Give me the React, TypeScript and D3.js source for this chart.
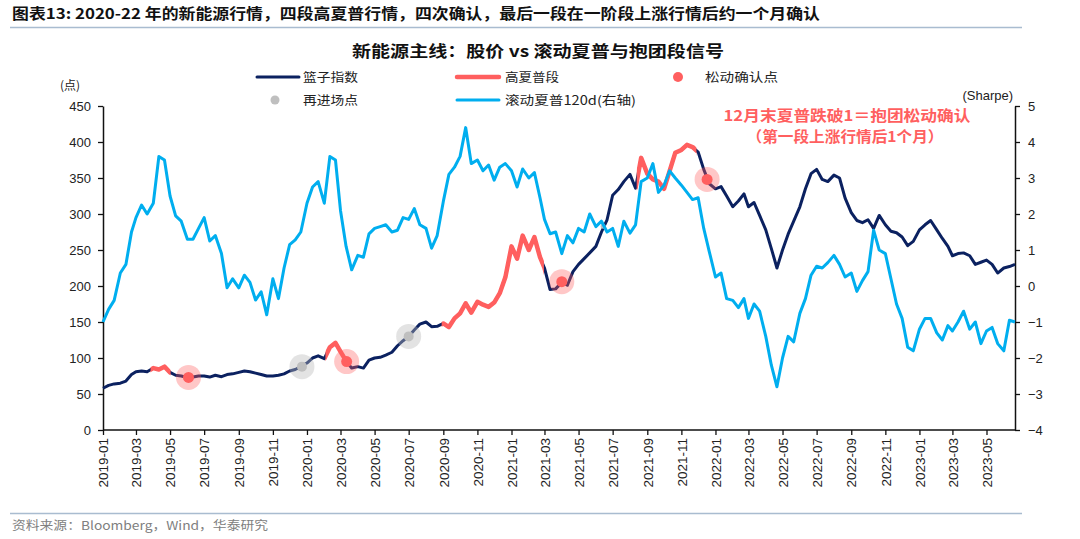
import React, { useEffect, useRef } from "react";
import * as d3 from "d3";

const W = 1080;
const H = 539;

// basket index, sampled on the 1st, 11th and 21st of each month from 2019-01
const priceValues = [
  58, 62, 64, 65, 68, 77, 81, 82, 81, 86,
  84, 88, 80, 76, 75, 73, 73.5, 75, 75, 73.5,
  76, 74, 77, 78, 80, 82, 81, 79, 77, 75,
  75, 76, 78, 82, 84, 88, 93, 100, 103, 99,
  115, 121, 109, 96, 86, 88, 86, 97, 100, 101,
  104, 108, 117, 124, 130, 139, 147, 150, 143.5, 144,
  148, 143, 155, 162, 176, 163, 178, 174, 171, 177,
  190, 212, 255, 238, 270, 250, 268, 240, 225, 195,
  196, 205, 201, 220, 230, 238, 246, 255, 275, 292,
  326, 334, 345, 355, 336, 378, 356, 348, 345, 335,
  360, 385, 389, 396, 393, 386, 362, 342, 335, 338,
  325, 310, 318, 328, 310, 316, 298, 278, 252, 225,
  250, 272, 290, 310, 335, 356, 362, 348, 345, 354,
  350, 322, 302, 291, 288, 292, 280, 298, 285, 276,
  274, 268, 256, 262, 278, 285, 291, 278, 266, 255,
  242, 245, 246, 242, 230, 233, 236, 230, 218, 225,
  227, 230,
];

// rolling 120d sharpe (right axis), same sampling
const sharpeValues = [
  -1.0, -0.65, -0.4, 0.36, 0.6, 1.5, 1.9, 2.25, 2.0, 2.3,
  3.6, 3.5, 2.5, 1.95, 1.8, 1.3, 1.3, 1.6, 1.9, 1.25,
  1.4, 0.9, -0.05, 0.2, -0.05, 0.3, 0.1, -0.39, -0.16, -0.8,
  0.2, -0.35, 0.5, 1.15, 1.28, 1.5, 2.3, 2.75, 2.9, 2.3,
  3.6, 3.5, 2.1, 1.1, 0.45, 0.85, 0.8, 1.45, 1.6, 1.65,
  1.7, 1.5, 1.55, 1.9, 1.85, 2.15, 1.7, 1.6, 1.05, 1.4,
  2.35, 3.1, 3.3, 3.6, 4.4, 3.4, 3.5, 3.2, 3.36, 2.94,
  3.3, 3.4, 3.2, 2.75, 3.25, 3.0, 3.15, 2.45, 1.85, 1.45,
  1.5, 0.9, 1.4, 1.2, 1.6, 1.5, 2.0, 1.65, 1.8, 1.5,
  1.6, 1.1, 1.8, 1.47, 1.7, 2.9, 3.0, 3.4, 2.6, 2.8,
  3.2, 3.0, 2.8, 2.6, 2.4, 2.45, 1.6, 0.95, 0.25, 0.36,
  -0.35, -0.4, -0.6, -0.35, -0.9, -0.5, -0.7, -1.4, -2.2, -2.8,
  -2.0, -1.4, -1.55, -0.76, -0.35, 0.3, 0.55, 0.5, 0.65, 0.85,
  0.6, 0.25, 0.36, -0.15, 0.15, 0.4, 1.55, 1.0, 0.9, 0.2,
  -0.5, -0.9, -1.7, -1.8, -1.2, -0.9, -0.9, -1.3, -1.5, -1.1,
  -1.25, -1.0, -0.7, -1.2, -1.0, -1.6, -1.25, -1.15, -1.6, -1.8,
  -0.95, -1.0,
];

const highSharpeStart = ["2019-03-27", "2020-02-03", "2020-08-29", "2021-08-13"];
const highSharpeEnd = ["2019-05-02", "2020-03-12", "2021-02-28", "2021-11-28"];

const confirmDates = ["2019-06-03", "2020-03-12", "2021-04-01", "2021-12-17"];
const confirmValues = [73, 95, 206, 348];

const reentryDates = ["2019-12-23", "2020-07-01", "2021-06-14"];
const reentryValues = [88, 130, 283];

const priceTicks = [0, 50, 100, 150, 200, 250, 300, 350, 400, 450];
const sharpeTicks = [-4, -3, -2, -1, 0, 1, 2, 3, 4, 5];

const titleText = "图表13:  2020-22 年的新能源行情，四段高夏普行情，四次确认，最后一段在一阶段上涨行情后约一个月确认";
const chartTitle = "新能源主线：股价 vs 滚动夏普与抱团段信号";
const noteLines = ["12月末夏普跌破1＝抱团松动确认", "（第一段上涨行情后1个月）"];
const sourceText = "资料来源：Bloomberg，Wind，华泰研究";

const CJK = "'Noto Sans CJK SC', 'Noto Sans', sans-serif";
const LATIN = "'Liberation Sans', Arial, sans-serif";

const NAVY = "#0B2160";
const RED = "#FF5F5F";
const BLUE = "#00AEEF";
const GREY = "#BFBFBF";

const dates = priceValues.map((_, i) => new Date(2019, Math.floor(i / 3), 1 + 10 * (i % 3)));
const parse = d3.timeParse("%Y-%m-%d");

export default function App() {
  const ref = useRef<SVGSVGElement | null>(null);

  useEffect(() => {
    document.body.style.margin = "0";
    const svg = d3.select(ref.current!);
    svg.selectAll("*").remove();

    const left = 103, right = 1015, top = 106, bottom = 430;
    const x = d3.scaleTime().domain([dates[0], dates[dates.length - 1]]).range([left, right]);
    const yL = d3.scaleLinear().domain([0, 450]).range([bottom, top]);
    const yR = d3.scaleLinear().domain([-4, 5]).range([bottom, top]);

    // header
    svg.append("text")
      .attr("x", 12).attr("y", 19)
      .attr("font-family", CJK).attr("font-size", 14.5).attr("font-weight", "bold")
      .attr("textLength", 808).attr("lengthAdjust", "spacingAndGlyphs")
      .attr("fill", "#111")
      .text(titleText);
    svg.append("line").attr("x1", 10).attr("x2", 1022).attr("y1", 27.5).attr("y2", 27.5)
      .attr("stroke", "#A9BCD0").attr("stroke-width", 1.5);

    svg.append("text")
      .attr("x", 538).attr("y", 57).attr("text-anchor", "middle")
      .attr("font-family", CJK).attr("font-size", 16).attr("font-weight", "bold")
      .attr("textLength", 372).attr("lengthAdjust", "spacingAndGlyphs")
      .attr("fill", "#111")
      .text(chartTitle);

    // legend
    const lg = svg.append("g").attr("font-family", CJK).attr("font-size", 12.5).attr("fill", "#222");
    const legendLine = (x1: number, y: number, color: string, w: number) =>
      lg.append("line").attr("x1", x1).attr("x2", x1 + 42).attr("y1", y).attr("y2", y)
        .attr("stroke", color).attr("stroke-width", w).attr("stroke-linecap", "round");
    const legendText = (x0: number, y: number, t: string, len: number) =>
      lg.append("text").attr("x", x0).attr("y", y + 4.5).attr("textLength", len)
        .attr("lengthAdjust", "spacingAndGlyphs").text(t);
    legendLine(257, 77, NAVY, 3);
    legendText(303, 77, "篮子指数", 55);
    legendLine(457, 77, RED, 4.5);
    legendText(505, 77, "高夏普段", 54);
    lg.append("circle").attr("cx", 678).attr("cy", 77).attr("r", 5).attr("fill", RED);
    legendText(705, 77, "松动确认点", 73);
    lg.append("circle").attr("cx", 275).attr("cy", 100).attr("r", 4.5).attr("fill", GREY);
    legendText(303, 100, "再进场点", 55);
    legendLine(457, 100, BLUE, 3);
    legendText(505, 100, "滚动夏普120d(右轴)", 131);

    // unit labels
    svg.append("text").attr("x", 70).attr("y", 90).attr("text-anchor", "middle")
      .attr("font-family", CJK).attr("font-size", 12).attr("fill", "#222").text("(点)");
    svg.append("text").attr("x", 1013).attr("y", 100).attr("text-anchor", "end")
      .attr("font-family", LATIN).attr("font-size", 13).attr("fill", "#222").text("(Sharpe)");

    // axes
    const styleAxis = (g: d3.Selection<SVGGElement, unknown, null, undefined>) => {
      g.attr("font-family", LATIN).attr("font-size", 13);
      g.select(".domain").attr("stroke", "#111").attr("stroke-width", 1.5);
      g.selectAll(".tick line").attr("stroke", "#111").attr("stroke-width", 1.3);
      g.selectAll(".tick text").attr("fill", "#222");
    };

    svg.append("g").attr("transform", `translate(${left},0)`)
      .call(d3.axisLeft(yL).tickValues(priceTicks).tickSize(5).tickSizeOuter(0).tickPadding(7))
      .call(styleAxis);

    svg.append("g").attr("transform", `translate(${right},0)`)
      .call(d3.axisRight(yR).tickValues(sharpeTicks).tickSize(5).tickSizeOuter(0).tickPadding(8))
      .call(styleAxis);

    const monthTicks = d3.timeMonth.range(new Date(2019, 0, 1), new Date(2023, 5, 1), 2);
    const xg = svg.append("g").attr("transform", `translate(0,${bottom})`)
      .call(d3.axisBottom(x).tickValues(monthTicks)
        .tickFormat((d) => d3.timeFormat("%Y-%m")(d as Date))
        .tickSize(5).tickSizeOuter(0))
      .call(styleAxis);
    xg.select(".domain").attr("d", `M${left},0H${right}`);
    xg.selectAll(".tick text")
      .attr("transform", "rotate(-90)")
      .attr("x", -8).attr("y", 0).attr("dy", "0.35em")
      .attr("font-size", 13.5)
      .style("text-anchor", "end");

    // series
    const priceLine = d3.line<number>()
      .x((_, i) => x(dates[i]))
      .y((d) => yL(d));
    const sharpeLine = d3.line<number>()
      .x((_, i) => x(dates[i]))
      .y((d) => yR(d));

    svg.append("path").datum(priceValues)
      .attr("d", priceLine).attr("fill", "none")
      .attr("stroke", NAVY).attr("stroke-width", 3).attr("stroke-linejoin", "round");

    const clip = svg.append("clipPath").attr("id", "hi-sharpe");
    highSharpeStart.forEach((s, k) => {
      const x0 = x(parse(s)!);
      const x1 = x(parse(highSharpeEnd[k])!);
      clip.append("rect").attr("x", x0).attr("y", 0).attr("width", x1 - x0).attr("height", H);
    });
    svg.append("path").datum(priceValues)
      .attr("d", priceLine).attr("fill", "none").attr("clip-path", "url(#hi-sharpe)")
      .attr("stroke", RED).attr("stroke-width", 4.5).attr("stroke-linejoin", "round");

    // halos and dots
    confirmDates.forEach((d, k) => {
      const cx = x(parse(d)!), cy = yL(confirmValues[k]);
      svg.append("circle").attr("cx", cx).attr("cy", cy).attr("r", 12.5)
        .attr("fill", "rgba(255,95,95,0.35)");
      svg.append("circle").attr("cx", cx).attr("cy", cy).attr("r", 5.5).attr("fill", RED);
    });
    reentryDates.forEach((d, k) => {
      const cx = x(parse(d)!), cy = yL(reentryValues[k]);
      const main = k < 2;
      if (main) {
        svg.append("circle").attr("cx", cx).attr("cy", cy).attr("r", 12.5)
          .attr("fill", "rgba(185,185,185,0.4)");
      }
      svg.append("circle").attr("cx", cx).attr("cy", cy).attr("r", main ? 5 : 2.5).attr("fill", GREY);
    });

    svg.append("path").datum(sharpeValues)
      .attr("d", sharpeLine).attr("fill", "none")
      .attr("stroke", BLUE).attr("stroke-width", 3).attr("stroke-linejoin", "round");

    // annotation
    const note = svg.append("g").attr("font-family", CJK).attr("font-size", 15)
      .attr("font-weight", "bold").attr("fill", RED).attr("text-anchor", "middle");
    note.append("text").attr("x", 847).attr("y", 121)
      .attr("textLength", 247).attr("lengthAdjust", "spacingAndGlyphs").text(noteLines[0]);
    note.append("text").attr("x", 845).attr("y", 142)
      .attr("textLength", 197).attr("lengthAdjust", "spacingAndGlyphs").text(noteLines[1]);

    // footer
    svg.append("line").attr("x1", 10).attr("x2", 1022).attr("y1", 513.5).attr("y2", 513.5)
      .attr("stroke", "#A9BCD0").attr("stroke-width", 1.5);
    svg.append("text").attr("x", 12).attr("y", 530)
      .attr("font-family", CJK).attr("font-size", 12).attr("fill", "#808080")
      .attr("textLength", 256).attr("lengthAdjust", "spacingAndGlyphs")
      .text(sourceText);
  }, []);

  return <svg ref={ref} width={W} height={H} style={{ display: "block", background: "#fff" }} />;
}
